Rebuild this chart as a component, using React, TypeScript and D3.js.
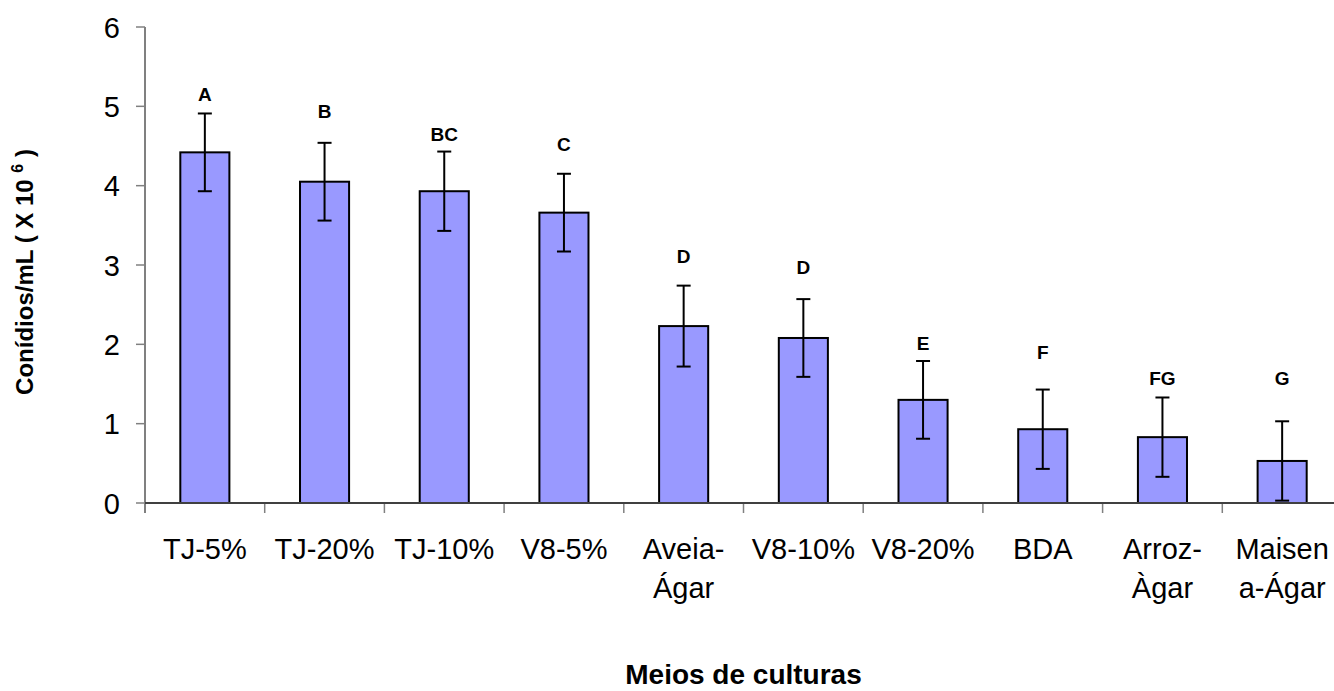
import React from "react";
import * as d3 from "d3";

const categories: string[][] = [
  ["TJ-5%"],
  ["TJ-20%"],
  ["TJ-10%"],
  ["V8-5%"],
  ["Aveia-", "Ágar"],
  ["V8-10%"],
  ["V8-20%"],
  ["BDA"],
  ["Arroz-", "Àgar"],
  ["Maisen", "a-Ágar"],
];
const values: number[] = [4.42, 4.05, 3.93, 3.66, 2.23, 2.08, 1.3, 0.93, 0.83, 0.53];
const errors: number[] = [0.49, 0.49, 0.5, 0.49, 0.51, 0.49, 0.49, 0.5, 0.5, 0.5];
const letters: string[] = ["A", "B", "BC", "C", "D", "D", "E", "F", "FG", "G"];
const letterLevels: number[] = [5.07, 4.855, 4.56, 4.44, 3.03, 2.89, 1.93, 1.81, 1.49, 1.49];
const yTicks: number[] = [0, 1, 2, 3, 4, 5, 6];

const W = 1334;
const H = 691;
const x0 = 145;
const x1 = 1342;
const yBottom = 503;
const yTop = 27;

export default function App() {
  const keys = categories.map((_, i) => String(i));
  const x = d3.scaleBand<string>().domain(keys).range([x0, x1]).paddingInner(0).paddingOuter(0);
  const y = d3.scaleLinear().domain([0, 6]).range([yBottom, yTop]);
  const bw = x.bandwidth();
  const barW = bw * 0.41;
  const font = "Arial, 'Liberation Sans', Helvetica, sans-serif";
  return (
    <svg width={W} height={H} style={{ position: "absolute", left: 0, top: 0, background: "#fff" }}>
      <rect x={0} y={0} width={W} height={H} fill="#fff" />
      {/* y axis */}
      <line x1={x0} x2={x0} y1={yTop} y2={yBottom + 10} stroke="#808080" strokeWidth={2} />
      {yTicks.map((t) => (
        <g key={t}>
          <line x1={x0 - 9} x2={x0} y1={y(t)} y2={y(t)} stroke="#808080" strokeWidth={1.5} />
          <text x={120} y={y(t) + 10.5} textAnchor="end" fontFamily={font} fontSize={29} fill="#000">
            {t}
          </text>
        </g>
      ))}
      {/* x ticks */}
      {keys.map((k) => (
        <line key={k} x1={x(k)!} x2={x(k)!} y1={yBottom} y2={yBottom + 10} stroke="#808080" strokeWidth={1.5} />
      ))}
      {/* bars */}
      {values.map((v, i) => {
        const cx = x(String(i))! + bw / 2;
        return (
          <rect key={i} x={cx - barW / 2} y={y(v)} width={barW} height={yBottom - y(v)} fill="#9999FF" stroke="#000" strokeWidth={2} />
        );
      })}
      {/* x axis line */}
      <line x1={x0} x2={x1} y1={yBottom} y2={yBottom} stroke="#404040" strokeWidth={2} />
      {/* error bars */}
      {values.map((v, i) => {
        const cx = x(String(i))! + bw / 2;
        const hi = y(v + errors[i]);
        const lo = y(Math.max(0, v - errors[i]));
        return (
          <g key={i} stroke="#000" strokeWidth={2}>
            <line x1={cx} x2={cx} y1={hi} y2={lo} />
            <line x1={cx - 7} x2={cx + 7} y1={hi} y2={hi} />
            <line x1={cx - 7} x2={cx + 7} y1={lo} y2={lo} />
          </g>
        );
      })}
      {/* letters */}
      {letters.map((l, i) => {
        const cx = x(String(i))! + bw / 2;
        return (
          <text key={i} x={cx} y={y(letterLevels[i])} textAnchor="middle" fontFamily={font} fontWeight="bold" fontSize={19} fill="#000">
            {l}
          </text>
        );
      })}
      {/* category labels */}
      {categories.map((lines, i) => {
        const cx = x(String(i))! + bw / 2;
        return (
          <text key={i} x={cx} textAnchor="middle" fontFamily={font} fontSize={29} fill="#000">
            {lines.map((ln, j) => (
              <tspan key={j} x={cx} y={559 + j * 39}>
                {ln}
              </tspan>
            ))}
          </text>
        );
      })}
      {/* axis titles */}
      <text x={(x0 + x1) / 2} y={684} textAnchor="middle" fontFamily={font} fontWeight="bold" fontSize={28} fill="#000">
        Meios de culturas
      </text>
      <text transform={`translate(33, 272) rotate(-90)`} textAnchor="middle" fontFamily={font} fontWeight="bold" fontSize={24} fill="#000">
        {"Conídios/mL ( X 10 "}
        <tspan dy={-10} fontSize={16}>6</tspan>
        <tspan dy={10}>{" )"}</tspan>
      </text>
    </svg>
  );
}
